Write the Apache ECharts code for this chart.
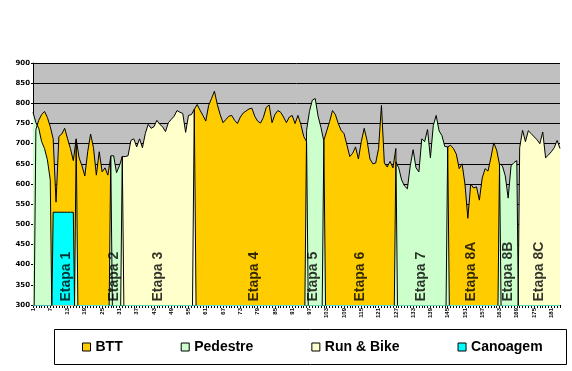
<!DOCTYPE html>
<html>
<head>
<meta charset="utf-8">
<script src="https://cdn.jsdelivr.net/npm/echarts@6/dist/echarts.min.js"></script>
<style>
html,body{margin:0;padding:0;background:#fff;}
#chart{width:572px;height:371px;}
</style>
</head>
<body>
<div id="chart"></div>
<script>
// Category labels (points 1..184)
const categories = Array.from({length: 184}, (_, i) => String(i + 1));

// Elevation per series (0 = series not active at that point, as in the original sheet)
const btt = [
  0,735,758,772,780,765,742,712,555,718,
  724,738,712,688,658,712,665,645,620,680,
  724,690,622,680,630,640,622,668,0,0,
  0,0,0,0,0,0,0,0,0,0,
  0,0,0,0,0,0,0,0,0,0,
  0,0,0,0,0,0,785,797,783,770,
  756,795,812,830,797,772,752,760,768,770,
  758,750,766,776,781,786,788,768,756,751,
  765,790,796,752,772,782,778,766,752,766,
  770,750,770,748,718,705,0,0,0,0,
  0,708,732,755,782,772,750,733,725,697,
  668,676,692,662,705,738,708,662,650,652,
  688,795,652,642,656,640,688,0,0,0,
  0,0,0,0,0,0,0,0,0,0,
  0,0,0,0,692,696,688,674,638,650,
  600,515,600,590,593,560,615,638,632,665,
  702,684,648,0,0,0,0,0,0,0,
  0,0,0,0,0,0,0,0,0,0,
  0,0,0,0
];
const pedestre = [
  778,752,738,705,688,660,610,0,0,0,
  0,0,0,0,0,710,0,0,0,0,
  0,0,0,0,0,0,0,670,670,628,
  645,668,0,0,0,0,0,0,0,0,
  0,0,0,0,0,0,0,0,0,0,
  0,0,0,0,0,0,0,0,0,0,
  0,0,0,0,0,0,0,0,0,0,
  0,0,0,0,0,0,0,0,0,0,
  0,0,0,0,0,0,0,0,0,0,
  0,0,0,0,0,733,780,808,812,768,
  740,706,0,0,0,0,0,0,0,0,
  0,0,0,0,0,0,0,0,0,0,
  0,0,0,0,0,0,655,640,610,595,
  588,645,685,640,630,712,705,735,665,745,
  770,732,720,693,692,0,0,0,0,0,
  0,0,0,0,0,0,0,0,0,0,
  0,0,650,645,620,565,645,653,658,0,
  0,0,0,0,0,0,0,0,0,0,
  0,0,0,0
];
const runBike = [
  0,0,0,0,0,0,0,0,0,0,
  0,0,0,0,0,0,0,0,0,0,
  0,0,0,0,0,0,0,0,0,0,
  0,668,668,670,708,712,692,712,690,725,
  748,738,742,758,748,742,730,752,760,768,
  782,778,775,728,770,772,785,0,0,0,
  0,0,0,0,0,0,0,0,0,0,
  0,0,0,0,0,0,0,0,0,0,
  0,0,0,0,0,0,0,0,0,0,
  0,0,0,0,0,0,0,0,0,0,
  0,0,0,0,0,0,0,0,0,0,
  0,0,0,0,0,0,0,0,0,0,
  0,0,0,0,0,0,0,0,0,0,
  0,0,0,0,0,0,0,0,0,0,
  0,0,0,0,0,0,0,0,0,0,
  0,0,0,0,0,0,0,0,0,0,
  0,0,0,0,0,0,0,0,0,690,
  733,705,732,725,717,710,700,729,665,672,
  680,690,708,688
];
const canoagem = [
  0,0,0,0,0,0,0,530,530,530,
  530,530,530,530,530,0,0,0,0,0,
  0,0,0,0,0,0,0,0,0,0,
  0,0,0,0,0,0,0,0,0,0,
  0,0,0,0,0,0,0,0,0,0,
  0,0,0,0,0,0,0,0,0,0,
  0,0,0,0,0,0,0,0,0,0,
  0,0,0,0,0,0,0,0,0,0,
  0,0,0,0,0,0,0,0,0,0,
  0,0,0,0,0,0,0,0,0,0,
  0,0,0,0,0,0,0,0,0,0,
  0,0,0,0,0,0,0,0,0,0,
  0,0,0,0,0,0,0,0,0,0,
  0,0,0,0,0,0,0,0,0,0,
  0,0,0,0,0,0,0,0,0,0,
  0,0,0,0,0,0,0,0,0,0,
  0,0,0,0,0,0,0,0,0,0,
  0,0,0,0,0,0,0,0,0,0,
  0,0,0,0
];

// Stage labels and their centre (category index)
const stageNames = ['Etapa 1','Etapa 2','Etapa 3','Etapa 4','Etapa 5','Etapa 6','Etapa 7','Etapa 8A','Etapa 8B','Etapa 8C'];
const stageCenters = [11.8, 28.5, 43.8, 77, 97.6, 113.9, 135, 152.4, 165, 176];

const seriesNames = ['BTT','Pedestre','Run & Bike','Canoagem'];
const seriesData = [btt, pedestre, runBike, canoagem];
const seriesColors = ['#FFCC00','#CCFFCC','#FFFFCC','#00FFFF'];

const chart = echarts.init(document.getElementById('chart'), null, {renderer: 'canvas'});

const areaSeries = seriesNames.map((n, k) => ({
  name: n,
  type: 'line',
  data: seriesData[k],
  showSymbol: false,
  symbol: 'none',
  clip: true,
  itemStyle: {color: seriesColors[k]},
  lineStyle: {color: '#000', width: 1},
  areaStyle: {color: seriesColors[k], opacity: 1},
  emphasis: {disabled: true},
  silent: true
}));

const labelSeries = {
  type: 'scatter',
  xAxisIndex: 1,
  yAxisIndex: 0,
  symbolSize: 1,
  itemStyle: {color: 'rgba(0,0,0,0)'},
  silent: true,
  data: stageNames.map((s, i) => ({name: s, value: [stageCenters[i], 300]})),
  label: {
    show: true,
    formatter: '{b}',
    rotate: 90,
    position: [0, -3],
    align: 'left',
    verticalAlign: 'middle',
    fontFamily: 'Liberation Sans, Arial, sans-serif',
    fontWeight: 'bold',
    fontSize: 14,
    color: '#000'
  },
  z: 10
};

chart.setOption({
  animation: false,
  backgroundColor: '#ffffff',
  grid: {
    left: 33, right: 12, top: 63, bottom: 66,
    show: true, backgroundColor: '#C0C0C0', borderWidth: 0
  },
  graphic: [{
    type: 'rect',
    shape: {x: 54.5, y: 329.5, width: 512, height: 35},
    style: {fill: '#fff', stroke: '#000', lineWidth: 1},
    z: 1
  }],
  legend: {
    data: seriesNames.map((n, k) => ({
      name: n,
      icon: 'rect',
      itemStyle: {color: seriesColors[k], borderColor: '#000', borderWidth: 1}
    })),
    left: 82,
    top: 340,
    padding: 0,
    itemWidth: 8,
    itemHeight: 8,
    itemGap: 58,
    selectedMode: false,
    textStyle: {
      fontFamily: 'Liberation Sans, Arial, sans-serif',
      fontWeight: 'bold',
      fontSize: 14,
      color: '#000'
    },
    z: 5
  },
  xAxis: [{
    type: 'category',
    data: categories,
    boundaryGap: false,
    axisLine: {lineStyle: {color: '#000', width: 1}},
    axisTick: {show: true, interval: 0, length: 3, lineStyle: {color: '#000'}},
    axisLabel: {
      interval: 5,
      rotate: 90,
      margin: 3,
      fontFamily: 'Liberation Sans, Arial, sans-serif',
      fontWeight: 'bold',
      fontSize: 6,
      color: '#000'
    },
    splitLine: {show: false}
  }, {
    type: 'value',
    min: 0,
    max: 183,
    show: false
  }],
  yAxis: {
    type: 'value',
    min: 300,
    max: 900,
    interval: 50,
    axisLine: {show: true, lineStyle: {color: '#000', width: 1}},
    axisTick: {show: true, length: 2, lineStyle: {color: '#000'}},
    axisLabel: {
      margin: 3,
      fontFamily: 'DejaVu Sans, sans-serif',
      fontWeight: 'bold',
      fontSize: 7,
      color: '#000'
    },
    splitLine: {show: true, lineStyle: {color: '#000', width: 1}}
  },
  series: areaSeries.concat([labelSeries])
});
</script>
</body>
</html>
